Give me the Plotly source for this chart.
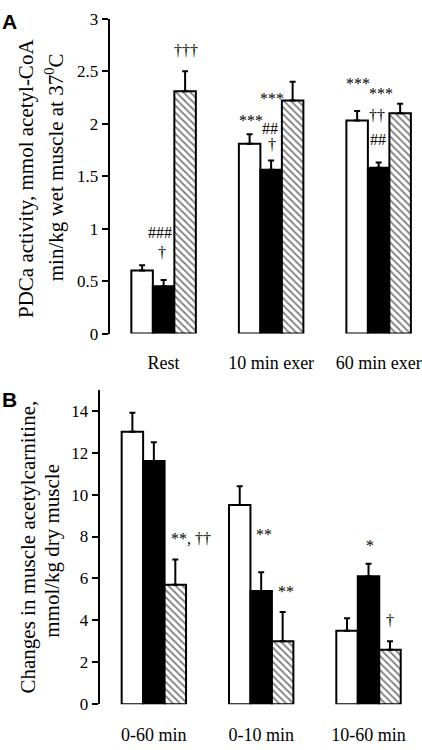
import plotly.graph_objects as go

# ---------------- data ----------------
groups_a = ["Rest", "10 min exer", "60 min exer"]
open_a = [0.60, 1.81, 2.03]
open_a_err = [0.05, 0.09, 0.09]
filled_a = [0.45, 1.56, 1.58]
filled_a_err = [0.06, 0.09, 0.05]
hatched_a = [2.31, 2.22, 2.10]
hatched_a_err = [0.19, 0.18, 0.09]

groups_b = ["0-60 min", "0-10 min", "10-60 min"]
open_b = [13.0, 9.5, 3.5]
open_b_err = [0.9, 0.9, 0.6]
filled_b = [11.6, 5.4, 6.1]
filled_b_err = [0.9, 0.9, 0.6]
hatched_b = [5.7, 3.0, 2.6]
hatched_b_err = [1.2, 1.4, 0.4]

ticks_a = [0, 0.5, 1, 1.5, 2, 2.5, 3]
ticks_a_text = ["0", "0.5", "1", "1.5", "2", "2.5", "3"]
ticks_b = [0, 2, 4, 6, 8, 10, 12, 14]

# significance marks: (text, group position, value level)
marks_a = [
    ("†††", 0.204, 2.70),
    ("###", -0.037, 0.96),
    ("†", -0.016, 0.77),
    ("***", 0.817, 2.03),
    ("##", 0.993, 1.955),
    ("†", 1.009, 1.80),
    ("***", 1.007, 2.24),
    ("***", 1.810, 2.38),
    ("***", 2.019, 2.285),
    ("††", 1.986, 2.08),
    ("##", 1.993, 1.85),
]
marks_b = [
    ("**, ††", 0.347, 7.92),
    ("**", 1.027, 8.11),
    ("**", 1.231, 5.36),
    ("*", 2.015, 7.55),
    ("†", 2.201, 4.01),
]

SERIF = "Liberation Serif, Times New Roman, serif"
SANS = "Liberation Sans, Arial, sans-serif"
BLACK = "#000000"

fig = go.Figure()


def add_series(x, y, err, xa, ya, color, pattern=None, name=""):
    marker = dict(color=color, line=dict(color=BLACK, width=2))
    if pattern:
        marker["pattern"] = dict(shape="\\", fgcolor=BLACK, bgcolor="white",
                                 size=5, solidity=0.35)
    fig.add_trace(go.Bar(
        x=list(range(len(x))), y=y, name=name, marker=marker,
        xaxis=xa, yaxis=ya, showlegend=False,
        error_y=dict(type="data", array=err, arrayminus=[0] * len(err),
                     symmetric=False, color=BLACK, thickness=2, width=3),
    ))


add_series(groups_a, open_a, open_a_err, "x", "y", "white", name="Open")
add_series(groups_a, filled_a, filled_a_err, "x", "y", BLACK, name="Filled")
add_series(groups_a, hatched_a, hatched_a_err, "x", "y", "white", pattern=True, name="Hatched")
add_series(groups_b, open_b, open_b_err, "x2", "y2", "white", name="Open")
add_series(groups_b, filled_b, filled_b_err, "x2", "y2", BLACK, name="Filled")
add_series(groups_b, hatched_b, hatched_b_err, "x2", "y2", "white", pattern=True, name="Hatched")

W, H = 422, 750

xcommon = dict(showline=False, showgrid=False, zeroline=False, ticks="",
               tickfont=dict(family=SERIF, size=18, color=BLACK),
               ticklabeloverflow="allow")
ycommon = dict(showline=True, linecolor=BLACK, linewidth=2, showgrid=False,
               zeroline=False, ticks="outside", ticklen=6, tickwidth=2,
               tickcolor=BLACK, tickfont=dict(family=SERIF, size=17, color=BLACK))

fig.update_layout(
    width=W, height=H,
    margin=dict(l=0, r=0, t=0, b=0),
    paper_bgcolor="white", plot_bgcolor="white",
    barmode="group", bargap=0.4, bargroupgap=0,
    xaxis=dict(domain=[110 / W, 1], range=[-0.501, 2.394], anchor="y",
               tickvals=[0, 1, 2], ticktext=groups_a, ticklabelstandoff=16, **xcommon),
    yaxis=dict(domain=[(H - 333) / H, (H - 10) / H], range=[0, 3], anchor="x",
               tickvals=ticks_a, ticktext=ticks_a_text, **ycommon),
    xaxis2=dict(domain=[100 / W, 1], range=[-0.504, 2.489], anchor="y2",
                tickvals=[0, 1, 2], ticktext=groups_b, ticklabelstandoff=18, **xcommon),
    yaxis2=dict(domain=[(H - 713.3) / H, (H - 390.7) / H], range=[0, 15], anchor="x2",
                tickvals=ticks_b, **ycommon),
)

ann = []
for t, x, y in marks_a:
    ann.append(dict(text=t, x=x, y=y, xref="x", yref="y", showarrow=False,
                    xanchor="center", yanchor="middle",
                    font=dict(family=SERIF, size=16, color=BLACK)))
for t, x, y in marks_b:
    ann.append(dict(text=t, x=x, y=y, xref="x2", yref="y2", showarrow=False,
                    xanchor="center", yanchor="middle",
                    font=dict(family=SERIF, size=16, color=BLACK)))

# axis titles (two lines each)
titles = [
    ("PDCa activity, mmol acetyl-CoA", 26, 173.5),
    ("min/kg wet muscle at 37<sup>0</sup>C", 55, 162.5),
    ("Changes in muscle acetylcarnitine,", 28, 551.5),
    ("mmol/kg dry muscle", 52, 556),
]
for t, px, py in titles:
    ann.append(dict(text=t, x=px / W, y=1 - py / H, xref="paper", yref="paper",
                    showarrow=False, textangle=-90, xanchor="center", yanchor="middle",
                    font=dict(family=SERIF, size=21, color=BLACK)))

for t, py in [("A", 13), ("B", 401)]:
    ann.append(dict(text="<b>%s</b>" % t, x=0, y=1 - py / H, xref="paper", yref="paper",
                    showarrow=False, xanchor="left", yanchor="middle",
                    font=dict(family=SANS, size=21, color=BLACK)))

fig.update_layout(annotations=ann)
fig.write_html(
    "out.html",
    config={"displayModeBar": False},
    post_script="document.body.style.margin='0';document.body.style.overflow='hidden';",
)
